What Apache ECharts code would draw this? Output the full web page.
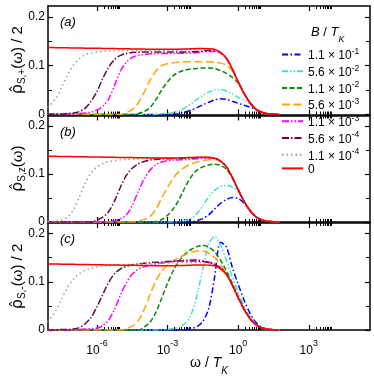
<!DOCTYPE html>
<html>
<head>
<meta charset="utf-8">
<script src="https://cdn.jsdelivr.net/npm/echarts@6/dist/echarts.min.js"></script>
<style>
  html, body { margin: 0; padding: 0; background: #fff; }
  #chart { width: 374px; height: 376px; }
</style>
</head>
<body>
<div id="chart"></div>
<script>
// log10(omega / T_K) sample positions
const logOmega = [-8.1, -7.75, -7.5, -7.25, -7, -6.75, -6.5, -6.25, -6, -5.75,
  -5.5, -5.25, -5, -4.75, -4.5, -4.25, -4, -3.75, -3.5, -3.25,
  -3, -2.75, -2.5, -2.25, -2, -1.75, -1.5, -1.25, -1, -0.75,
  -0.5, -0.25, 0, 0.25, 0.5, 0.75, 1, 1.25, 1.5, 1.75];

// field values B / T_K (legend)
const fieldNames = ['1.1e-1', '5.6e-2', '1.1e-2', '5.6e-3', '1.1e-3', '5.6e-4', '1.1e-4', '0'];
const xTickExps = [-6, -3, 0, 3];
const yTicks = [0, 0.1, 0.2];
const yMinorTicks = [0.05, 0.15];
const panelLabels = ['(a)', '(b)', '(c)'];

// B = 0 (same in all panels)
const zeroField = [0.137, 0.1368, 0.1366, 0.1364, 0.1362, 0.136, 0.1358, 0.1356, 0.1354, 0.1352,
  0.135, 0.1348, 0.1346, 0.1344, 0.1342, 0.134, 0.1338, 0.1336, 0.1335, 0.1334,
  0.1334, 0.1335, 0.1337, 0.134, 0.1344, 0.1348, 0.135, 0.1346, 0.1332, 0.127,
  0.115, 0.093, 0.067, 0.043, 0.024, 0.011, 0.0045, 0.0016, 0.0005, 0.0001];

// (a) rho_{S,+}/2
const plus_b11e1 = [0, 0, 0, 0, 0, 0, 0, 0, 0, 0,
  0, 0, 0, 0, 0, 0, 0, 0, 0, 0.0002,
  0.0004, 0.001, 0.002, 0.005, 0.009, 0.014, 0.02, 0.025, 0.03, 0.032,
  0.031, 0.027, 0.023, 0.019, 0.015, 0.01, 0.0045, 0.0016, 0.0005, 0.0001];
const plus_b56e2 = [0, 0, 0, 0, 0, 0, 0, 0, 0, 0,
  0, 0, 0, 0, 0, 0, 0, 0, 0, 0.001,
  0.002, 0.004, 0.008, 0.014, 0.022, 0.031, 0.039, 0.046, 0.05, 0.051,
  0.048, 0.042, 0.035, 0.029, 0.022, 0.011, 0.0045, 0.0016, 0.0005, 0.0001];
const plus_b11e2 = [0, 0, 0, 0, 0, 0, 0, 0, 0, 0,
  0, 0, 0, 0, 0, 0.002, 0.006, 0.014, 0.03, 0.05,
  0.067, 0.08, 0.087, 0.091, 0.093, 0.094, 0.095, 0.095, 0.094, 0.09,
  0.084, 0.076, 0.064, 0.043, 0.024, 0.011, 0.0045, 0.0016, 0.0005, 0.0001];
const plus_b56e3 = [0, 0, 0, 0, 0, 0, 0, 0, 0, 0,
  0, 0, 0, 0.004, 0.01, 0.023, 0.045, 0.07, 0.089, 0.1,
  0.104, 0.106, 0.107, 0.1075, 0.108, 0.108, 0.108, 0.1075, 0.107, 0.105,
  0.101, 0.089, 0.066, 0.043, 0.024, 0.011, 0.0045, 0.0016, 0.0005, 0.0001];
const plus_b11e3 = [0, 0, 0, 0.001, 0.001, 0.002, 0.003, 0.005, 0.009, 0.017,
  0.032, 0.06, 0.089, 0.107, 0.117, 0.121, 0.123, 0.124, 0.1245, 0.125,
  0.125, 0.125, 0.1252, 0.1255, 0.126, 0.1265, 0.128, 0.129, 0.129, 0.125,
  0.1145, 0.093, 0.067, 0.043, 0.024, 0.011, 0.0045, 0.0016, 0.0005, 0.0001];
const plus_b56e4 = [0, 0.001, 0.001, 0.002, 0.003, 0.006, 0.013, 0.027, 0.047, 0.074,
  0.097, 0.113, 0.121, 0.125, 0.127, 0.1275, 0.128, 0.128, 0.128, 0.128,
  0.128, 0.128, 0.128, 0.128, 0.1285, 0.129, 0.13, 0.131, 0.1315, 0.1265,
  0.1148, 0.093, 0.067, 0.043, 0.024, 0.011, 0.0045, 0.0016, 0.0005, 0.0001];
const plus_b11e4 = [0.014, 0.033, 0.056, 0.081, 0.101, 0.114, 0.122, 0.126, 0.128, 0.129,
  0.13, 0.1305, 0.131, 0.131, 0.131, 0.131, 0.131, 0.131, 0.131, 0.131,
  0.131, 0.1312, 0.1315, 0.132, 0.1325, 0.133, 0.1335, 0.1335, 0.1325, 0.1268,
  0.115, 0.093, 0.067, 0.043, 0.024, 0.011, 0.0045, 0.0016, 0.0005, 0.0001];

// (b) rho_{S,z}
const zz_b11e1 = [0, 0, 0, 0, 0, 0, 0, 0, 0, 0,
  0, 0, 0, 0, 0, 0, 0, 0, 0, 0,
  0, 0, 0, 0, 0, 0.003, 0.007, 0.015, 0.027, 0.039,
  0.047, 0.051, 0.049, 0.039, 0.024, 0.011, 0.0045, 0.0016, 0.0005, 0.0001];
const zz_b56e2 = [0, 0, 0, 0, 0, 0, 0, 0, 0, 0,
  0, 0, 0, 0, 0, 0, 0, 0, 0, 0,
  0, 0, 0.001, 0.003, 0.007, 0.018, 0.034, 0.052, 0.066, 0.074,
  0.076, 0.073, 0.063, 0.043, 0.024, 0.011, 0.0045, 0.0016, 0.0005, 0.0001];
const zz_b11e2 = [0, 0, 0, 0, 0, 0, 0, 0, 0, 0,
  0, 0, 0, 0, 0, 0, 0, 0, 0.001, 0.005,
  0.014, 0.028, 0.048, 0.073, 0.094, 0.108, 0.115, 0.119, 0.1205, 0.118,
  0.11, 0.092, 0.067, 0.043, 0.024, 0.011, 0.0045, 0.0016, 0.0005, 0.0001];
const zz_b56e3 = [0, 0, 0, 0, 0, 0, 0, 0, 0, 0,
  0, 0, 0, 0, 0, 0.002, 0.005, 0.011, 0.026, 0.05,
  0.072, 0.092, 0.106, 0.115, 0.121, 0.125, 0.128, 0.13, 0.1305, 0.1265,
  0.1148, 0.093, 0.067, 0.043, 0.024, 0.011, 0.0045, 0.0016, 0.0005, 0.0001];
const zz_b11e3 = [0, 0, 0, 0, 0, 0, 0, 0, 0, 0,
  0.001, 0.003, 0.007, 0.015, 0.035, 0.063, 0.089, 0.108, 0.119, 0.125,
  0.128, 0.129, 0.1295, 0.13, 0.131, 0.132, 0.133, 0.134, 0.1332, 0.127,
  0.115, 0.093, 0.067, 0.043, 0.024, 0.011, 0.0045, 0.0016, 0.0005, 0.0001];
const zz_b56e4 = [0, 0, 0, 0, 0, 0, 0, 0, 0.004, 0.01,
  0.022, 0.044, 0.073, 0.097, 0.112, 0.121, 0.126, 0.129, 0.1305, 0.1315,
  0.132, 0.1322, 0.1325, 0.133, 0.1335, 0.134, 0.1345, 0.1345, 0.1332, 0.127,
  0.115, 0.093, 0.067, 0.043, 0.024, 0.011, 0.0045, 0.0016, 0.0005, 0.0001];
const zz_b11e4 = [0.001, 0.002, 0.004, 0.01, 0.026, 0.052, 0.081, 0.102, 0.115, 0.122,
  0.126, 0.128, 0.1295, 0.1305, 0.131, 0.1315, 0.132, 0.1322, 0.1325, 0.1328,
  0.133, 0.133, 0.1333, 0.1336, 0.134, 0.1345, 0.135, 0.1346, 0.1332, 0.127,
  0.115, 0.093, 0.067, 0.043, 0.024, 0.011, 0.0045, 0.0016, 0.0005, 0.0001];

// (c) rho_{S,-}/2
const minus_b11e1 = [0, 0, 0, 0, 0, 0, 0, 0, 0, 0,
  0, 0, 0, 0, 0, 0, 0, 0, 0, 0,
  0, 0, 0, 0, 0.003, 0.007, 0.018, 0.045, 0.11, 0.182,
  0.172, 0.13, 0.095, 0.062, 0.035, 0.016, 0.006, 0.002, 0.0005, 0.0001];
const minus_b56e2 = [0, 0, 0, 0, 0, 0, 0, 0, 0, 0,
  0, 0, 0, 0, 0, 0, 0, 0, 0, 0,
  0.001, 0.003, 0.006, 0.014, 0.032, 0.072, 0.128, 0.178, 0.194, 0.176,
  0.145, 0.11, 0.078, 0.05, 0.028, 0.013, 0.005, 0.0017, 0.0005, 0.0001];
const minus_b11e2 = [0, 0, 0, 0, 0, 0, 0, 0, 0, 0,
  0, 0, 0, 0, 0, 0, 0.006, 0.016, 0.036, 0.066,
  0.097, 0.124, 0.144, 0.158, 0.167, 0.173, 0.176, 0.172, 0.162, 0.145,
  0.123, 0.097, 0.07, 0.044, 0.024, 0.011, 0.0045, 0.0016, 0.0005, 0.0001];
const minus_b56e3 = [0, 0, 0, 0, 0, 0, 0, 0, 0, 0,
  0, 0, 0, 0.003, 0.008, 0.019, 0.042, 0.073, 0.102, 0.122,
  0.135, 0.144, 0.151, 0.156, 0.161, 0.164, 0.164, 0.159, 0.15, 0.135,
  0.117, 0.094, 0.068, 0.043, 0.024, 0.011, 0.0045, 0.0016, 0.0005, 0.0001];
const minus_b11e3 = [0, 0, 0, 0, 0.001, 0.001, 0.002, 0.003, 0.004, 0.009,
  0.021, 0.043, 0.073, 0.098, 0.116, 0.126, 0.131, 0.134, 0.137, 0.139,
  0.141, 0.1425, 0.144, 0.145, 0.1455, 0.1455, 0.144, 0.141, 0.137, 0.129,
  0.116, 0.093, 0.067, 0.043, 0.024, 0.011, 0.0045, 0.0016, 0.0005, 0.0001];
const minus_b56e4 = [0, 0, 0.001, 0.001, 0.002, 0.005, 0.013, 0.026, 0.048, 0.074,
  0.099, 0.117, 0.127, 0.132, 0.135, 0.137, 0.1385, 0.1395, 0.1405, 0.141,
  0.142, 0.1425, 0.143, 0.1432, 0.1432, 0.143, 0.142, 0.14, 0.136, 0.129,
  0.116, 0.093, 0.067, 0.043, 0.024, 0.011, 0.0045, 0.0016, 0.0005, 0.0001];
const minus_b11e4 = [0.017, 0.04, 0.064, 0.088, 0.106, 0.117, 0.124, 0.128, 0.131, 0.133,
  0.134, 0.1345, 0.135, 0.1355, 0.136, 0.1365, 0.137, 0.1375, 0.138, 0.1385,
  0.139, 0.1395, 0.14, 0.14, 0.14, 0.1398, 0.1395, 0.138, 0.135, 0.128,
  0.1155, 0.093, 0.067, 0.043, 0.024, 0.011, 0.0045, 0.0016, 0.0005, 0.0001];

const panels = [
  [plus_b11e1, plus_b56e2, plus_b11e2, plus_b56e3, plus_b11e3, plus_b56e4, plus_b11e4, zeroField],
  [zz_b11e1, zz_b56e2, zz_b11e2, zz_b56e3, zz_b11e3, zz_b56e4, zz_b11e4, zeroField],
  [minus_b11e1, minus_b56e2, minus_b11e2, minus_b56e3, minus_b11e3, minus_b56e4, minus_b11e4, zeroField]
];

const colors = ['#0000ff', '#40e0d0', '#008b00', '#ffa500', '#ff00ff', '#670748', '#bc8f8f', '#ff0000'];
const dashes = [[6, 2.5, 1.5, 2.5], [6, 2, 1.5, 2, 1.5, 2], [5, 2.5], [8, 3.5],
  [7, 2, 1.5, 2, 1.5, 2], [7, 2, 1.5, 2], [1.5, 3], 'solid'];

const xRange = [-8.08, 5.6];
const yMax = 0.222;
const FONT = 'Liberation Sans';
const gridBoxes = [{ top: 6, height: 108.5 }, { top: 115.5, height: 106.5 }, { top: 223, height: 107 }];

const minorX = [];
xTickExps.forEach(k => { for (let m = 2; m <= 9; m++) minorX.push(k + Math.log10(m)); });

const supRich = {
  b: { fontSize: 12, fontFamily: FONT, color: '#000', lineHeight: 18, verticalAlign: 'bottom' },
  e: { fontSize: 9, fontFamily: FONT, color: '#000', lineHeight: 9, verticalAlign: 'top' }
};

const yTitles = [
  '{r|ρ̂}{s|S,+}{n|(ω) / 2}',
  '{r|ρ̂}{s|S,z}{n|(ω)}',
  '{r|ρ̂}{s|S,-}{n|(ω) / 2}'
];
const yTitleRich = {
  r: { fontSize: 16, fontFamily: 'DejaVu Sans', color: '#000', lineHeight: 18 },
  s: { fontSize: 10, fontFamily: FONT, color: '#000', lineHeight: 10, verticalAlign: 'bottom' },
  n: { fontSize: 15, fontFamily: FONT, color: '#000', lineHeight: 18 }
};

const axisLine = { show: true, onZero: false, lineStyle: { color: '#000', width: 1.5 } };

const grid = [], xAxis = [], yAxis = [];
gridBoxes.forEach((b, g) => {
  grid.push({ left: 48, right: 4, top: b.top, height: b.height, outerBoundsMode: 'none' });
  const last = g === gridBoxes.length - 1;
  ['bottom', 'top'].forEach(pos => {
    xAxis.push({
      gridIndex: g, type: 'value', position: pos, min: xRange[0], max: xRange[1],
      axisLine: axisLine, splitLine: { show: false },
      axisTick: { show: true, inside: true, length: 5, customValues: xTickExps, lineStyle: { color: '#000', width: 1.2 } },
      axisLabel: (pos === 'bottom' && last) ? {
        show: true, customValues: xTickExps, margin: 9,
        formatter: v => '{b|10}{e|' + v + '}', rich: supRich
      } : { show: false },
      name: (pos === 'bottom' && last) ? '{n|ω / }{i|T}{s|K}' : '',
      nameLocation: 'middle', nameGap: 26, nameMoveOverlap: false,
      nameTextStyle: {
        rich: {
          n: { fontSize: 14, fontFamily: FONT, color: '#000', lineHeight: 20, verticalAlign: 'top' },
          i: { fontSize: 14, fontFamily: FONT, fontStyle: 'italic', color: '#000', lineHeight: 20, verticalAlign: 'top' },
          s: { fontSize: 10, fontFamily: FONT, fontStyle: 'italic', color: '#000', lineHeight: 10, verticalAlign: 'bottom' }
        }
      }
    });
    xAxis.push({
      gridIndex: g, type: 'value', position: pos, min: xRange[0], max: xRange[1],
      axisLine: { show: false, onZero: false }, splitLine: { show: false },
      axisTick: { show: true, inside: true, length: 3, customValues: minorX, lineStyle: { color: '#000', width: 1 } },
      axisLabel: { show: false }
    });
  });
  ['left', 'right'].forEach(pos => {
    yAxis.push({
      gridIndex: g, type: 'value', position: pos, min: 0, max: yMax,
      axisLine: axisLine, splitLine: { show: false },
      axisTick: { show: true, inside: true, length: 5, customValues: yTicks, lineStyle: { color: '#000', width: 1.2 } },
      axisLabel: pos === 'left' ? {
        show: true, customValues: yTicks, margin: 3, fontSize: 12, fontFamily: FONT, color: '#000',
        formatter: v => v === 0 ? '0' : v.toFixed(1)
      } : { show: false },
      name: pos === 'left' ? yTitles[g] : '',
      nameLocation: 'middle', nameRotate: 90, nameGap: 21, nameMoveOverlap: false,
      nameTextStyle: { rich: yTitleRich }
    });
    yAxis.push({
      gridIndex: g, type: 'value', position: pos, min: 0, max: yMax,
      axisLine: { show: false, onZero: false }, splitLine: { show: false },
      axisTick: { show: true, inside: true, length: 4, customValues: yMinorTicks, lineStyle: { color: '#000', width: 1 } },
      axisLabel: { show: false }
    });
  });
});

const series = [];
panels.forEach((curves, g) => {
  curves.forEach((vals, k) => {
    series.push({
      type: 'line', name: fieldNames[k], xAxisIndex: g * 4, yAxisIndex: g * 4,
      symbol: 'none', smooth: 0.3, silent: true, clip: true,
      data: vals.map((v, i) => [logOmega[i], v]),
      lineStyle: { color: colors[k], width: 1.5, type: dashes[k] },
      itemStyle: { color: colors[k] }
    });
  });
});

function fieldLabel(name) {
  if (name === '0') return '{m|0}';
  const parts = name.split('e');
  return '{m|' + parts[0] + ' × 10}{e|' + parts[1] + '}';
}

const titles = [{
  text: '{i|B}{n| / }{i|T}{s|K}', left: 306, top: 21,
  textStyle: {
    rich: {
      i: { fontSize: 13, fontFamily: FONT, fontStyle: 'italic', color: '#000', lineHeight: 18, verticalAlign: 'top' },
      n: { fontSize: 13, fontFamily: FONT, color: '#000', lineHeight: 18, verticalAlign: 'top' },
      s: { fontSize: 9, fontFamily: FONT, fontStyle: 'italic', color: '#000', lineHeight: 9, verticalAlign: 'bottom' }
    },
    fontSize: 13, fontFamily: FONT, color: '#000', fontWeight: 'normal'
  }
}];
panelLabels.forEach((t, g) => titles.push({
  text: t, left: 55, top: gridBoxes[g].top + 5,
  textStyle: { fontSize: 13, fontFamily: FONT, fontStyle: 'italic', fontWeight: 'normal', color: '#000' }
}));

const chart = echarts.init(document.getElementById('chart'), null, { renderer: 'canvas' });
chart.setOption({
  animation: false,
  backgroundColor: '#fff',
  textStyle: { fontFamily: FONT, color: '#000' },
  title: titles,
  legend: {
    orient: 'vertical', left: 276, top: 42, selectedMode: false,
    itemWidth: 21, itemHeight: 10, itemGap: 1.7,
    itemStyle: { opacity: 0 },
    data: fieldNames,
    formatter: fieldLabel,
    textStyle: {
      rich: {
        m: { fontSize: 12, fontFamily: FONT, color: '#000', lineHeight: 15, verticalAlign: 'bottom' },
        e: { fontSize: 8.5, fontFamily: FONT, color: '#000', lineHeight: 8, verticalAlign: 'top' }
      }
    }
  },
  grid: grid,
  xAxis: xAxis,
  yAxis: yAxis,
  series: series
});
</script>
</body>
</html>
